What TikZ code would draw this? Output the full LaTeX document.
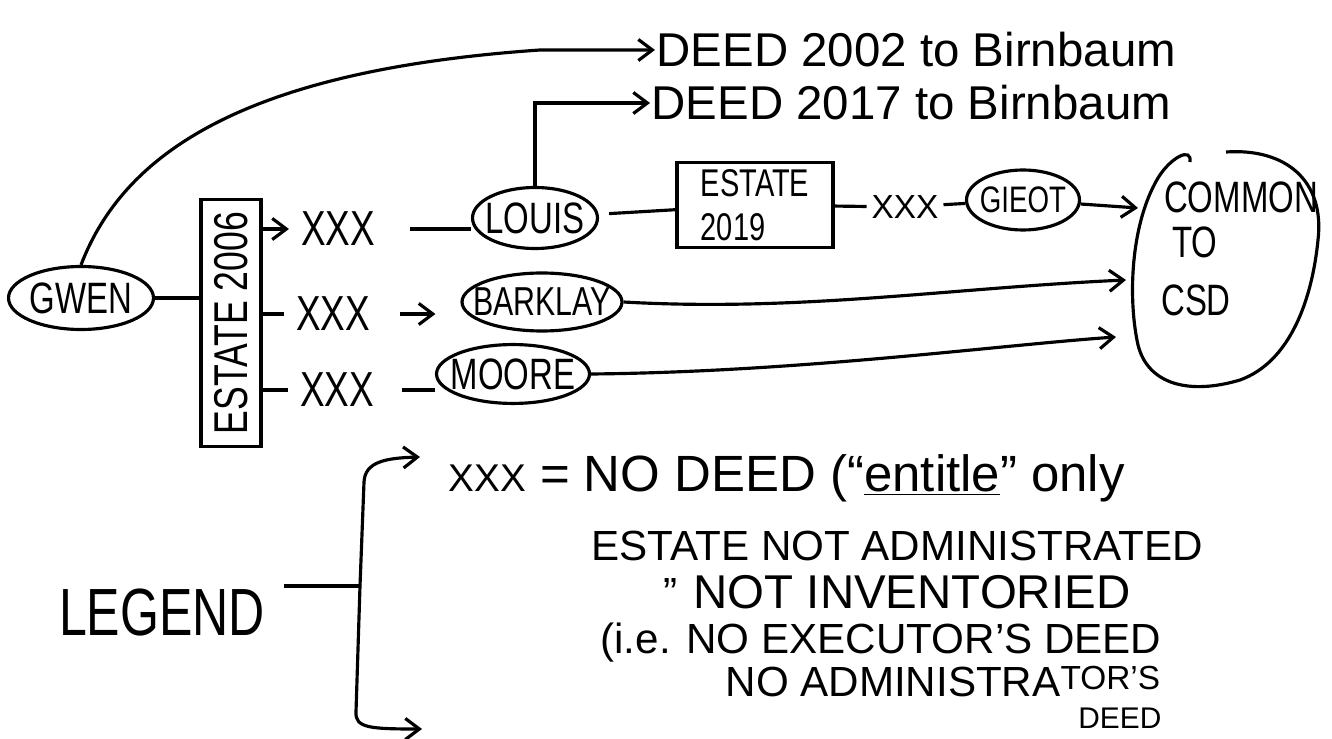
\documentclass[tikz,border=0pt]{standalone}
\usepackage{fontspec}
\setmainfont{Liberation Sans}
\newfontfamily\narrowhand[FakeStretch=0.75]{Liberation Sans}
\usetikzlibrary{shapes.geometric,arrows.meta}

\begin{document}
\begin{tikzpicture}[x=0.02cm,y=-0.02cm,line width=1.8pt,
person/.style={ellipse,draw,inner xsep=-8pt,inner ysep=3pt,font=\narrowhand\fontsize{25}{28}\selectfont},
nodeed/.style={font=\narrowhand\fontsize{28}{30}\selectfont,inner sep=2pt},
estbox/.style={rectangle,draw,inner sep=3pt},
blobtxt/.style={font=\narrowhand\fontsize{25}{28}\selectfont,inner sep=0pt},
deedtxt/.style={anchor=west,inner sep=0pt,font=\fontsize{27}{30}\selectfont},
legtxt/.style={anchor=west,inner sep=0pt,font=\fontsize{24}{28}\selectfont},
barb/.style={-{Straight Barb[length=8pt,width=12pt]}}]
\useasboundingbox (0,0) rectangle (1332,739);
\node[person,minimum width=2.9cm,minimum height=1.26cm] (gwen) at (81,298) {GWEN};
\node[estbox,minimum width=1.2cm,minimum height=4.94cm,font=\narrowhand\fontsize{27}{30}\selectfont] (est06) at (231,323) {\rotatebox{90}{ESTATE 2006}};
\foreach \n/\x/\y in {1/338/229,2/333/314,3/337/390}
   \node[nodeed] (xxx\n) at (\x,\y) {XXX};
\node[person,minimum width=2.5cm,minimum height=1.22cm] (louis) at (535,218) {LOUIS};
\node[person,minimum width=3.2cm,minimum height=1.16cm,font=\narrowhand\fontsize{23}{26}\selectfont] (barklay) at (542,302) {BARKLAY};
\node[person,minimum width=3.06cm,minimum height=1.16cm] (moore) at (513,374) {MOORE};
\node[estbox,minimum width=3.12cm,minimum height=1.7cm,align=left,font=\narrowhand\fontsize{22}{25}\selectfont] (est19) at (755,205) {ESTATE\\2019};
\node[nodeed,font=\fontsize{19}{21}\selectfont] (xxx4) at (905,207) {XXX};
\node[person,minimum width=2.26cm,minimum height=1.2cm,font=\narrowhand\fontsize{21}{24}\selectfont] (gieot) at (1023,200) {GIEOT};
\node[deedtxt] (deed02) at (655,50) {DEED 2002 to Birnbaum};
\node[deedtxt] (deed17) at (650,103) {DEED 2017 to Birnbaum};
\node[blobtxt] (cmn) at (1241,197) {COMMON};
\node[blobtxt] (cto) at (1195,242) {TO};
\node[blobtxt] (csd) at (1196,300) {CSD};
\coordinate (inG) at (1138,208);
\coordinate (inB) at (1126,280);
\coordinate (inM) at (1116,337);
\draw (1226,152) .. controls (1285,148) and (1325,180) .. (1318,240)
   .. controls (1312,300) and (1290,362) .. (1240,380)
   .. controls (1190,395) and (1148,385) .. (1138,345)
   .. controls (1128,300) and (1130,225) .. (1158,178)
   .. controls (1170,158) and (1192,146) .. (1190,162);
\draw (gwen) -- (gwen -| est06.west);
\draw[barb] (gwen.north) .. controls (125,150) and (250,70) .. (540,50) -- (deed02.west);
\draw[barb,shorten >=4pt] (xxx1 -| est06.east) -- (xxx1.west);
\draw[shorten >=4pt] (xxx2 -| est06.east) -- (xxx2.west);
\draw[shorten >=4pt] (xxx3 -| est06.east) -- (xxx3.west);
\draw[shorten <=0.6cm] (xxx1.east) -- (xxx1 -| louis.west);
\draw[barb,shorten <=0.5cm,shorten >=0.5cm] (xxx2.east) -- (xxx2 -| barklay.west);
\draw[shorten <=0.45cm] (xxx3.east) -- (xxx3 -| moore.west);
\draw[barb] (louis.north) |- (deed17.west);
\draw[shorten <=6pt] (louis) -- (est19);
\draw (est19) -- (xxx4);
\draw (xxx4) -- (gieot);
\draw[barb] (gieot) -- (inG);
\draw[barb] (barklay.east) .. controls (800,312) and (950,288) .. (inB);
\draw[barb] (moore.east) .. controls (800,372) and (1000,345) .. (inM);
\node[inner sep=0pt,font=\narrowhand\fontsize{38}{40}\selectfont] (legend) at (162,613) {LEGEND};
\node[legtxt,font=\fontsize{29}{32}\selectfont] (leg1) at (447,478) {{\fontsize{22}{24}\selectfont XXX} = NO DEED (``\underline{entitle}'' only};
\node[legtxt] (leg2) at (590,546) {ESTATE NOT ADMINISTRATED};
\node[legtxt] (ditto) at (662,593) {"};
\node[legtxt,font=\fontsize{27}{30}\selectfont] (leg3) at (692,592) {NOT INVENTORIED};
\node[legtxt] (leg4) at (599,643) {(i.e. NO EXECUTOR'S DEED};
\node[legtxt] (leg5) at (724,682) {NO ADMINISTRA\raisebox{4pt}{\fontsize{19}{21}\selectfont TOR'S}};
\node[legtxt,anchor=east,font=\fontsize{17}{19}\selectfont] (leg6) at ([yshift=-1.5cm]leg4.east) {DEED};
\coordinate (brk) at (360,586);
\coordinate (brktop) at (420,457);
\coordinate (brkbot) at (422,729);
\draw[shorten <=0.35cm] (legend.east |- brk) -- (brk);
\draw[barb] (brk) -- (364,482) .. controls (365,462) and (385,458) .. (brktop);
\draw[barb] (brk) -- (356,712) .. controls (355,728) and (370,729) .. (brkbot);
\end{tikzpicture}
\end{document}
